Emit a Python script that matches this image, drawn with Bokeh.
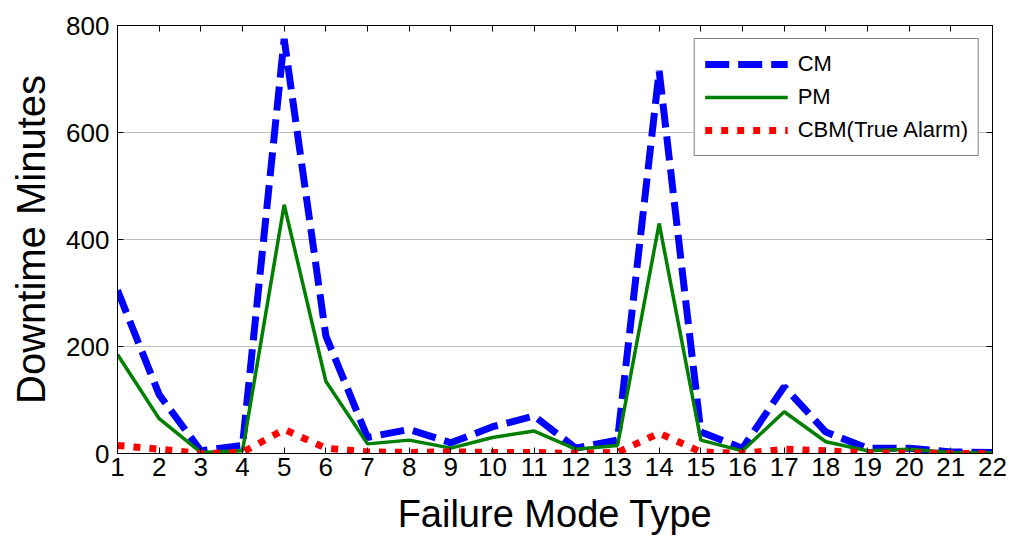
from bokeh.plotting import figure
from bokeh.models import Range1d, LinearAxis, FixedTicker, Legend, LegendItem
from bokeh.embed import file_html
from bokeh.resources import INLINE

failure_modes = list(range(1, 23))
cm = [305, 110, 5, 15, 775, 220, 30, 45, 20, 50, 70, 10, 25, 715, 40, 10, 125, 40, 10, 10, 3, 2]
pm = [185, 65, 2, 5, 465, 135, 18, 25, 10, 30, 42, 8, 15, 430, 25, 5, 78, 22, 5, 8, 2, 1]
cbm = [15, 8, 0, 2, 45, 10, 3, 2, 3, 2, 2, 0, 2, 38, 3, 0, 8, 5, 1, 1, 0, 0]
y_ticks = [0, 200, 400, 600, 800]

FONT = "Liberation Sans"

p = figure(width=1011, height=538, output_backend="svg", toolbar_location=None,
           x_range=Range1d(1, 22), y_range=Range1d(0, 800),
           min_border_left=117, min_border_right=19, min_border_top=25, min_border_bottom=85)
p.background_fill_color = "white"
p.border_fill_color = "white"
p.outline_line_color = "black"
p.outline_line_width = 1

r_cm = p.line(failure_modes, cm, line_color="#0000ff", line_width=7, line_dash="24 9")
r_pm = p.line(failure_modes, pm, line_color="#007f00", line_width=3.5)
r_cbm = p.line(failure_modes, cbm, line_color="#ff0000", line_width=7, line_dash="7 9")

p.xgrid.visible = False
p.ygrid.ticker = FixedTicker(ticks=y_ticks)
p.ygrid.grid_line_color = "#7a7a7a"
p.ygrid.grid_line_dash = "1 1"
p.ygrid.grid_line_width = 1

for ax in (p.xaxis[0], p.yaxis[0]):
    ax.major_tick_in = 6
    ax.major_tick_out = 0
    ax.minor_tick_line_color = None
    ax.axis_line_color = "black"
    ax.major_tick_line_color = "black"
    ax.major_label_text_font = FONT
    ax.major_label_text_font_size = "26px"
    ax.major_label_text_color = "black"
    ax.axis_label_text_font = FONT
    ax.axis_label_text_font_style = "normal"
    ax.axis_label_text_color = "black"

p.xaxis[0].ticker = FixedTicker(ticks=failure_modes)
p.xaxis[0].axis_label = "Failure Mode Type"
p.xaxis[0].axis_label_text_font_size = "38px"
p.xaxis[0].major_label_standoff = 4
p.xaxis[0].axis_label_standoff = 14

p.yaxis[0].ticker = FixedTicker(ticks=y_ticks)
p.yaxis[0].axis_label = "Downtime Minutes"
p.yaxis[0].axis_label_text_font_size = "40px"
p.yaxis[0].major_label_standoff = 8
p.yaxis[0].axis_label_standoff = 10

top = LinearAxis(ticker=FixedTicker(ticks=failure_modes), major_tick_in=6, major_tick_out=0,
                 minor_tick_line_color=None, major_label_text_font_size="0px",
                 major_label_text_alpha=0)
right = LinearAxis(ticker=FixedTicker(ticks=y_ticks), major_tick_in=6, major_tick_out=0,
                   minor_tick_line_color=None, major_label_text_font_size="0px",
                   major_label_text_alpha=0)
p.add_layout(top, "above")
p.add_layout(right, "right")

legend = Legend(items=[LegendItem(label="CM", renderers=[r_cm]),
                       LegendItem(label="PM", renderers=[r_pm]),
                       LegendItem(label="CBM(True Alarm)", renderers=[r_cbm])],
                location="top_right")
legend.margin = 13
legend.padding = 10
legend.spacing = 3
legend.glyph_width = 83
legend.glyph_height = 30
legend.label_height = 30
legend.label_standoff = 10
legend.label_text_font = FONT
legend.label_text_font_size = "22px"
legend.label_text_color = "black"
legend.border_line_color = "black"
legend.border_line_width = 1
legend.background_fill_color = "white"
legend.background_fill_alpha = 1
p.add_layout(legend, "center")

open("out.html", "w").write(file_html(p, INLINE))
